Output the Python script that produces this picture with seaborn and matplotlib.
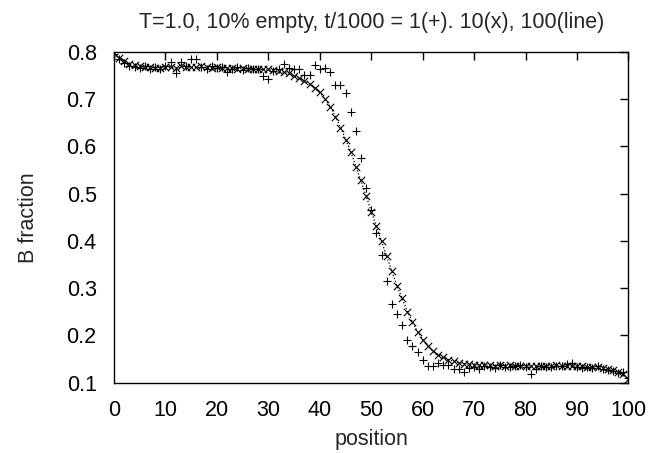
import matplotlib
matplotlib.use("Agg")
import matplotlib.pyplot as plt
import seaborn as sns
import pandas as pd

positions = list(range(0, 101))

# t/1000 = 1 (+)
frac_t1 = [0.795, 0.785, 0.776, 0.770, 0.768, 0.766, 0.770, 0.765, 0.768, 0.763,
           0.770, 0.778, 0.755, 0.778, 0.770, 0.785, 0.785, 0.768, 0.765, 0.770,
           0.766, 0.768, 0.757, 0.765, 0.768, 0.762, 0.766, 0.763, 0.765, 0.750,
           0.743, 0.760, 0.765, 0.774, 0.766, 0.764, 0.764, 0.751, 0.751, 0.773,
           0.764, 0.767, 0.757, 0.731, 0.731, 0.714, 0.672, 0.633, 0.575, 0.512,
           0.465, 0.416, 0.370, 0.315, 0.267, 0.245, 0.221, 0.189, 0.178, 0.164,
           0.148, 0.135, 0.135, 0.141, 0.138, 0.138, 0.128, 0.128, 0.123, 0.130,
           0.132, 0.128, 0.135, 0.133, 0.130, 0.138, 0.132, 0.133, 0.135, 0.137,
           0.132, 0.118, 0.128, 0.135, 0.132, 0.133, 0.136, 0.134, 0.140, 0.142,
           0.133, 0.131, 0.133, 0.130, 0.134, 0.128, 0.126, 0.124, 0.120, 0.123,
           0.110]

# t/1000 = 10 (x)
frac_t10 = [0.797, 0.787, 0.780, 0.775, 0.772, 0.770, 0.768, 0.768, 0.767, 0.767,
            0.768, 0.769, 0.767, 0.770, 0.768, 0.769, 0.768, 0.770, 0.768, 0.767,
            0.768, 0.766, 0.767, 0.766, 0.765, 0.766, 0.765, 0.764, 0.765, 0.764,
            0.763, 0.762, 0.760, 0.758, 0.755, 0.750, 0.744, 0.739, 0.732, 0.724,
            0.715, 0.700, 0.684, 0.662, 0.639, 0.614, 0.588, 0.556, 0.528, 0.496,
            0.462, 0.432, 0.399, 0.368, 0.336, 0.304, 0.278, 0.250, 0.228, 0.208,
            0.189, 0.177, 0.166, 0.159, 0.153, 0.148, 0.145, 0.141, 0.140, 0.139,
            0.138, 0.137, 0.138, 0.137, 0.136, 0.137, 0.136, 0.137, 0.136, 0.135,
            0.136, 0.135, 0.134, 0.136, 0.135, 0.136, 0.137, 0.136, 0.135, 0.134,
            0.135, 0.134, 0.133, 0.133, 0.132, 0.131, 0.129, 0.127, 0.123, 0.118,
            0.108]

# t/1000 = 100 (line)
frac_t100 = [0.796, 0.786, 0.779, 0.774, 0.771, 0.769, 0.768, 0.767, 0.767, 0.767,
             0.767, 0.767, 0.767, 0.767, 0.767, 0.767, 0.767, 0.767, 0.767, 0.766,
             0.766, 0.766, 0.766, 0.765, 0.765, 0.765, 0.764, 0.764, 0.764, 0.763,
             0.762, 0.761, 0.759, 0.757, 0.754, 0.750, 0.745, 0.739, 0.732, 0.724,
             0.714, 0.701, 0.685, 0.664, 0.641, 0.616, 0.589, 0.558, 0.527, 0.495,
             0.463, 0.431, 0.399, 0.367, 0.336, 0.305, 0.278, 0.251, 0.228, 0.208,
             0.191, 0.178, 0.167, 0.159, 0.153, 0.148, 0.145, 0.142, 0.140, 0.139,
             0.138, 0.137, 0.137, 0.137, 0.136, 0.136, 0.136, 0.136, 0.136, 0.135,
             0.135, 0.135, 0.135, 0.135, 0.135, 0.135, 0.135, 0.135, 0.134, 0.134,
             0.134, 0.133, 0.133, 0.132, 0.131, 0.130, 0.128, 0.126, 0.122, 0.117,
             0.108]

title_text = "T=1.0, 10% empty, t/1000 = 1(+). 10(x), 100(line)"
x_label = "position"
y_label = "B fraction"
x_ticks = [0, 10, 20, 30, 40, 50, 60, 70, 80, 90, 100]
y_ticks = [0.1, 0.2, 0.3, 0.4, 0.5, 0.6, 0.7, 0.8]

df = pd.DataFrame({"position": positions, "t1": frac_t1, "t10": frac_t10, "t100": frac_t100})

sns.set_style("white")
plt.rcParams["font.family"] = ["Liberation Sans", "DejaVu Sans"]

fig = plt.figure(figsize=(6.64, 4.53), dpi=100)
ax = fig.add_axes([0.1717, 0.1556, 0.7748, 0.7296])

sns.lineplot(data=df, x="position", y="t100", ax=ax, color="black",
             linewidth=0.9, linestyle=(0, (1, 1.6)))
sns.scatterplot(data=df, x="position", y="t10", ax=ax, marker="x", color="black",
                s=28, linewidth=0.8)
sns.scatterplot(data=df, x="position", y="t1", ax=ax, marker="+", color="black",
                s=32, linewidth=0.8)

ax.set_xlim(0, 100)
ax.set_ylim(0.1, 0.8)
ax.set_xticks(x_ticks)
ax.set_xticklabels([str(t) for t in x_ticks])
ax.set_yticks(y_ticks)
ax.set_yticklabels([f"{t:.1f}" for t in y_ticks])
ax.tick_params(direction="in", length=6, width=1, top=True, right=True,
               labelsize=15.5, pad=12.5, colors="black")
for sp in ax.spines.values():
    sp.set_color("black")
    sp.set_linewidth(1)
ax.set_xlabel(x_label, fontsize=15.5, labelpad=5.5)
ax.set_ylabel(y_label, fontsize=15.5, labelpad=20)
ax.set_title(title_text, fontsize=15.5, pad=17)

fig.savefig("out.png", dpi=100)
